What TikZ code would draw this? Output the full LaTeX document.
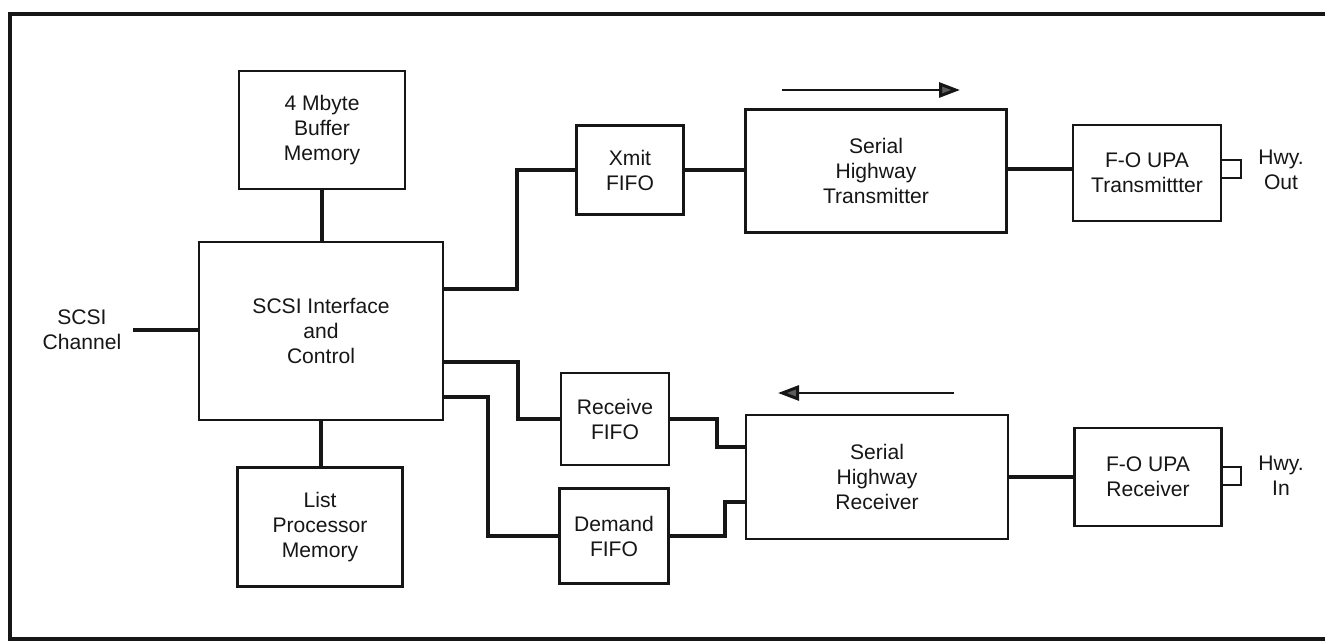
\documentclass[tikz,border=0pt]{standalone}
\usepackage{fontspec}
\setmainfont{Liberation Sans}
\usetikzlibrary{arrows.meta,positioning}
\definecolor{ink}{RGB}{22,22,22}
\tikzset{
  unit/.style={draw=ink,line width=1.6pt,align=center,inner sep=0pt,
    font=\fontsize{12}{14.2}\selectfont,text=ink},
  tag/.style={align=center,inner sep=0pt,font=\fontsize{12}{14.2}\selectfont,text=ink},
  wire/.style={draw=ink,line width=2.2pt},
  dirflow/.style={draw=ink,line width=1.7pt,
    -{Triangle[length=4.2mm,width=3mm,fill=ink!70]}},
  frame/.style={draw=ink,line width=2.6pt},
}
\begin{document}
\begin{tikzpicture}[x=0.02cm,y=-0.02cm]
  \useasboundingbox (0,0) rectangle (1325,641);
  \draw[frame] (1330,14) -- (10,14) -- (10,639) -- (1330,639);
  % left column
  \node[unit,minimum width=3.32cm,minimum height=2.36cm] (buffer) at (322,130) {4 Mbyte\\Buffer\\Memory};
  \node[unit,minimum width=4.88cm,minimum height=3.56cm] (scsi) at (321,331) {SCSI Interface\\and\\Control};
  \node[unit,minimum width=3.30cm,minimum height=2.38cm] (listmem) at (320,527) {List\\Processor\\Memory};
  \node[tag] (chan) at (82,330) {SCSI\\Channel};
  % fifos
  \node[unit,minimum width=2.14cm,minimum height=1.78cm] (xmitfifo) at (630,170) {Xmit\\FIFO};
  \node[unit,minimum width=2.16cm,minimum height=1.84cm] (recvfifo) at (615,419) {Receive\\FIFO};
  \node[unit,minimum width=2.18cm,minimum height=1.90cm] (demfifo) at (614,536) {Demand\\FIFO};
  % serial highway
  \node[unit,minimum width=5.22cm,minimum height=2.46cm] (sertx) at (876,171) {Serial\\Highway\\Transmitter};
  \node[unit,minimum width=5.24cm,minimum height=2.48cm] (serrx) at (877,477) {Serial\\Highway\\Receiver};
  \node[unit,minimum width=2.96cm,minimum height=1.92cm] (fotx) at (1147,173) {F-O UPA\\Transmittter};
  \node[unit,minimum width=2.94cm,minimum height=1.96cm] (forx) at (1148,477) {F-O UPA\\Receiver};
  \node[tag] (hwyout) at (1281,170) {Hwy.\\Out};
  \node[tag] (hwyin) at (1281,476) {Hwy.\\In};
  % links
  \draw[wire] (buffer.south) -- (buffer.south |- scsi.north);
  \draw[wire] (scsi.south) -- (scsi.south |- listmem.north);
  \draw[wire] ([xshift=0.22cm]chan.east) -- (chan.east -| scsi.west);
  \draw[wire] (xmitfifo.west) -| (517,289) -- (scsi.east |- 0,289);
  \draw[wire] (recvfifo.west) -| (518,362) -- (scsi.east |- 0,362);
  \draw[wire] (demfifo.west) -| (488,397) -- (scsi.east |- 0,397);
  \draw[wire] (xmitfifo.east) -- (xmitfifo.east -| sertx.west);
  \draw[wire] (recvfifo.east) -| (717,447) -- (serrx.west |- 0,447);
  \draw[wire] (demfifo.east) -| (725,502) -- (serrx.west |- 0,502);
  \draw[wire] (sertx.east |- 0,169) -- (fotx.west |- 0,169);
  \draw[wire] (serrx.east) -- (forx.west);
  % output stubs
  \draw[ink,line width=1.6pt] (fotx.east |- 0,160) -- (1241,160) -- (1241,178) -- (fotx.east |- 0,178);
  \draw[ink,line width=1.6pt] (forx.east |- 0,467) -- (1241,467) -- (1241,485) -- (forx.east |- 0,485);
  % direction of flow
  \coordinate (txa) at (782,90);
  \coordinate (txb) at (960,90);
  \coordinate (rxa) at (954,393);
  \coordinate (rxb) at (778,393);
  \draw[dirflow] (txa) -- (txb);
  \draw[dirflow] (rxa) -- (rxb);
\end{tikzpicture}
\end{document}
